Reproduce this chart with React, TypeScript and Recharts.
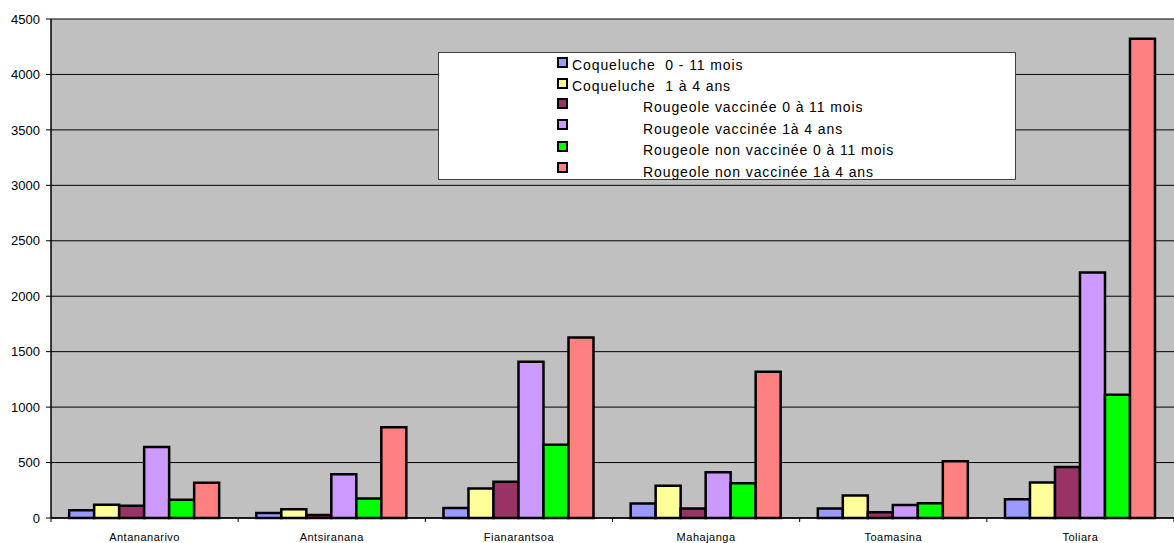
import React from 'react';
import { BarChart, Bar, XAxis, YAxis, CartesianGrid, Legend } from 'recharts';

const categories = ['Antananarivo', 'Antsiranana', 'Fianarantsoa', 'Mahajanga', 'Toamasina', 'Toliara'];
const coqueluche011 = [70, 45, 90, 130, 85, 170];
const coqueluche14 = [120, 78, 267, 290, 203, 320];
const rougeoleVac011 = [110, 27, 327, 85, 51, 460];
const rougeoleVac14 = [640, 394, 1410, 413, 118, 2215];
const rougeoleNonVac011 = [165, 175, 661, 313, 133, 1112];
const rougeoleNonVac14 = [318, 818, 1627, 1320, 512, 4321];

const seriesKeys = ['s1', 's2', 's3', 's4', 's5', 's6'];
const seriesNames = [
  'Coqueluche  0 - 11 mois',
  'Coqueluche  1 à 4 ans',
  'Rougeole vaccinée 0 à 11 mois',
  'Rougeole vaccinée 1à 4 ans',
  'Rougeole non vaccinée 0 à 11 mois',
  'Rougeole non vaccinée 1à 4 ans',
];
const seriesColors = ['#9999FF', '#FFFF99', '#993366', '#CC99FF', '#00FF00', '#FF8080'];
const seriesValues = [coqueluche011, coqueluche14, rougeoleVac011, rougeoleVac14, rougeoleNonVac011, rougeoleNonVac14];
const yTicks = [0, 500, 1000, 1500, 2000, 2500, 3000, 3500, 4000, 4500];

const data = categories.map((c, i) => {
  const row: any = { name: c };
  seriesKeys.forEach((k, j) => {
    row[k] = seriesValues[j][i];
  });
  return row;
});

const FONT = '"Liberation Sans", Arial, sans-serif';

const LegendBox = () => (
  <div
    style={{
      position: 'relative',
      width: 578,
      height: 128,
      background: '#fff',
      border: '1px solid #404040',
      boxSizing: 'border-box',
      fontFamily: FONT,
      fontSize: 14,
      letterSpacing: 0.9,
      color: '#000',
    }}
  >
    {seriesNames.map((n, i) => (
      <div key={n}>
        <div
          style={{
            position: 'absolute',
            left: 118,
            top: (i < 2 ? 4 : 2) + i * 21.4,
            width: 11,
            height: 11,
            boxSizing: 'border-box',
            border: '2px solid #000',
            background: seriesColors[i],
          }}
        />
        <div
          style={{
            position: 'absolute',
            left: i < 2 ? 133 : 204,
            top: 11.5 + i * 21.4 - 9,
            lineHeight: '18px',
            whiteSpace: 'pre',
          }}
        >
          {n}
        </div>
      </div>
    ))}
  </div>
);

const CategoryTick = (props: any) => {
  const { x, y, payload, index, visibleTicksCount } = props;
  const half = payload && payload.offset ? payload.offset : 0;
  const isLast = index === (visibleTicksCount || categories.length) - 1;
  return (
    <g>
      <line x1={x - half} y1={y} x2={x - half} y2={y + 4} stroke="#000" strokeWidth={1} />
      {isLast && <line x1={x + half} y1={y} x2={x + half} y2={y + 4} stroke="#000" strokeWidth={1} />}
      <text
        x={x}
        y={y + 19}
        dy="0.355em"
        textAnchor="middle"
        fontSize={11}
        fontFamily={FONT}
        letterSpacing={0.5}
        fill="#000"
      >
        {payload.value}
      </text>
    </g>
  );
};

export default function App() {
  return (
    <div style={{ position: 'absolute', left: 0, top: 0, width: 1174, height: 543, background: '#fff' }}>
      <BarChart
        width={1174}
        height={543}
        data={data}
        margin={{ top: 19, right: 0, bottom: 0, left: 0 }}
        barCategoryGap="9.7%"
        barGap={0}
      >
        <CartesianGrid vertical={false} fill="#C0C0C0" stroke="#000" strokeWidth={1} />
        <XAxis
          dataKey="name"
          height={25}
          axisLine={{ stroke: '#000', strokeWidth: 1.5 }}
          tickLine={false}
          tickSize={0}
          tickMargin={0}
          tick={<CategoryTick />}
          interval={0}
        />
        <YAxis
          width={51}
          domain={[0, 4500]}
          ticks={yTicks}
          interval={0}
          axisLine={{ stroke: '#000', strokeWidth: 1.5 }}
          tickLine={{ stroke: '#000' }}
          tickSize={5}
          tickMargin={6}
          tick={{ fontSize: 13, fill: '#000', fontFamily: FONT }}
        />
        <Legend
          layout="vertical"
          align="center"
          verticalAlign="middle"
          wrapperStyle={{ position: 'absolute', left: 438, top: 52, width: 578, height: 128 }}
          content={() => <LegendBox />}
        />
        {seriesKeys.map((k, i) => (
          <Bar
            key={k}
            dataKey={k}
            name={seriesNames[i]}
            fill={seriesColors[i]}
            stroke="#000"
            strokeWidth={2.5}
            isAnimationActive={false}
          />
        ))}
      </BarChart>
    </div>
  );
}
